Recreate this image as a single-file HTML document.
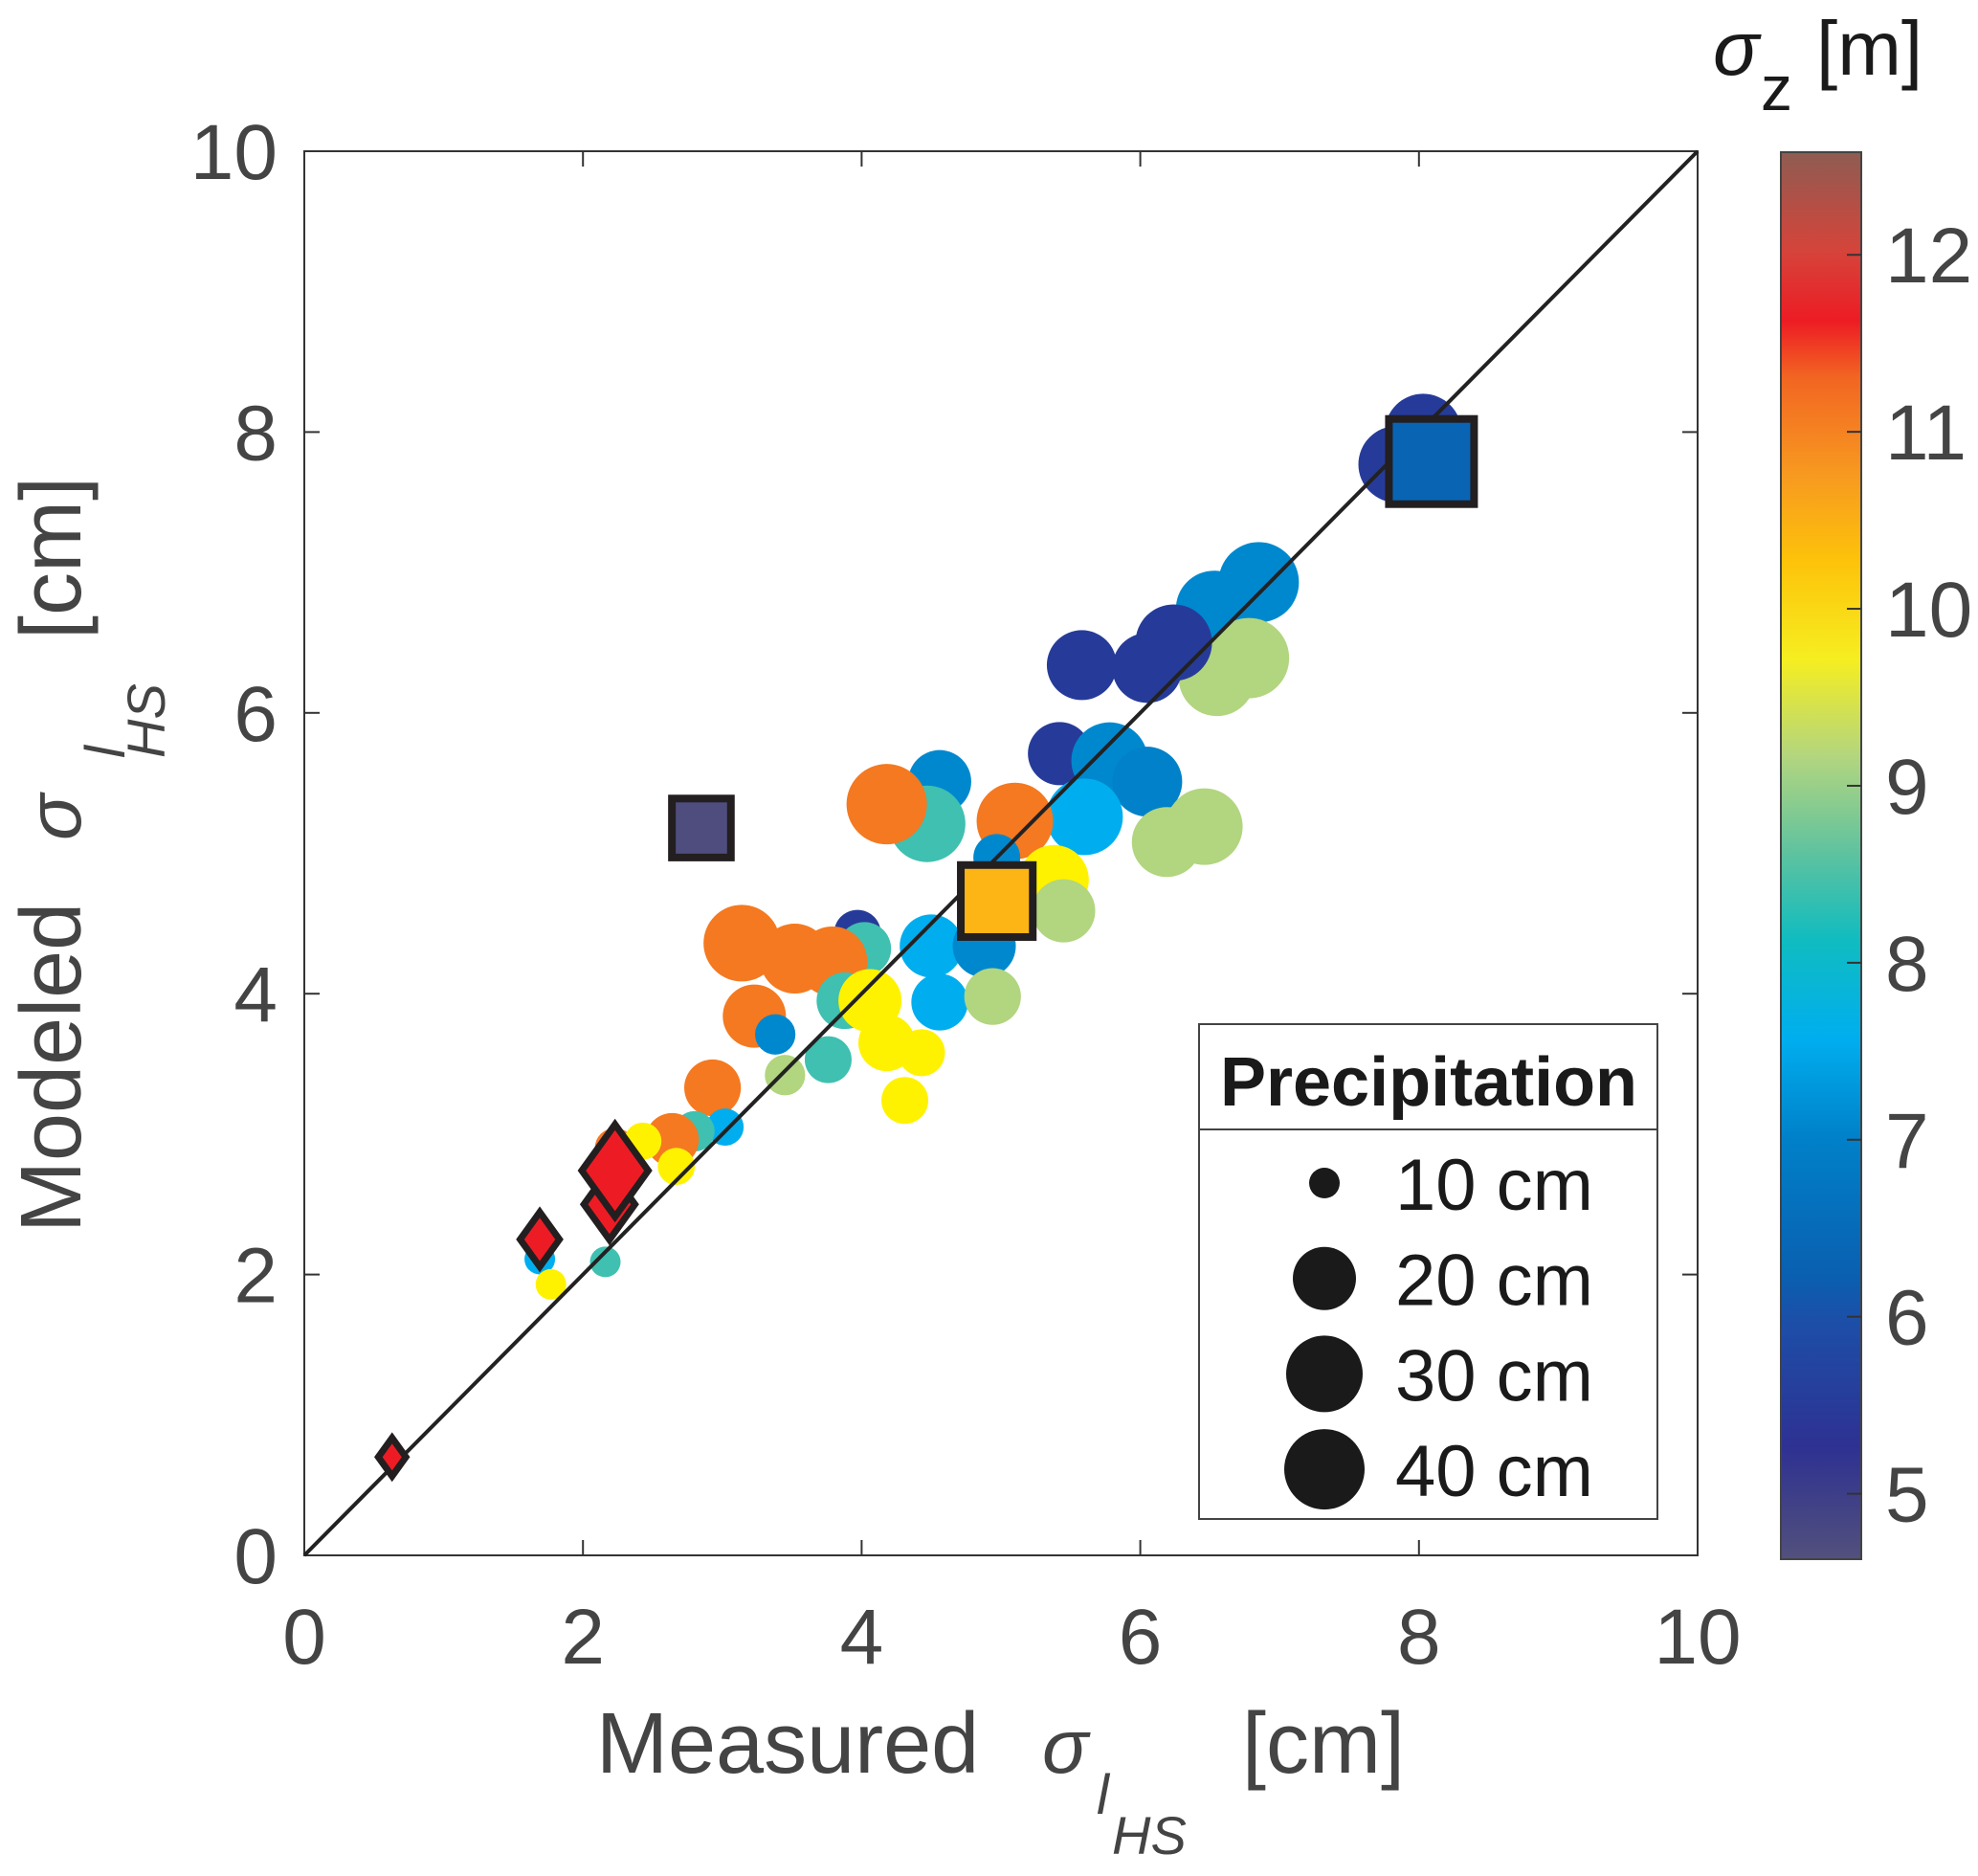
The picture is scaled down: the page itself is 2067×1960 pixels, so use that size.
<!DOCTYPE html>
<html><head><meta charset="utf-8"><style>
html,body{margin:0;padding:0;background:#fff}
svg{display:block}
text{font-family:"Liberation Sans",Arial,sans-serif}
</style></head><body>
<svg id="chart" width="2067" height="1960" viewBox="0 0 2067 1960" xmlns="http://www.w3.org/2000/svg">
<defs>
<linearGradient id="cbgrad" x1="0" y1="1" x2="0" y2="0">
<stop offset="0" stop-color="#52507c"/>
<stop offset="0.08" stop-color="#2e3192"/>
<stop offset="0.17" stop-color="#1c4fa8"/>
<stop offset="0.2" stop-color="#0a5fb0"/>
<stop offset="0.3" stop-color="#0081c9"/>
<stop offset="0.37" stop-color="#00aeef"/>
<stop offset="0.44" stop-color="#10bcc0"/>
<stop offset="0.5" stop-color="#5cc2a0"/>
<stop offset="0.57" stop-color="#b2d57f"/>
<stop offset="0.64" stop-color="#f6ee20"/>
<stop offset="0.71" stop-color="#fdc20a"/>
<stop offset="0.77" stop-color="#f79a20"/>
<stop offset="0.84" stop-color="#f26522"/>
<stop offset="0.88" stop-color="#ed1c24"/>
<stop offset="0.93" stop-color="#d5443a"/>
<stop offset="1" stop-color="#8e5c52"/>
</linearGradient>
</defs>
<g id="plot"></g>
<g fill="#444">
<text x="623" y="1852" font-size="90" font-family="Liberation Sans, sans-serif">Measured</text>
<text x="1089" y="1852" font-size="80" font-style="italic" font-family="Liberation Serif, serif">σ</text>
<text x="1146" y="1895" font-size="58" font-style="italic" font-family="Liberation Sans, sans-serif">l</text>
<text x="1162" y="1937" font-size="56" font-style="italic" font-family="Liberation Sans, sans-serif">HS</text>
<text x="1298" y="1852" font-size="90" font-family="Liberation Sans, sans-serif">[cm]</text>
</g>
<g fill="#444" transform="translate(84,0) rotate(-90)">
<text x="-1288" y="0" font-size="90" font-family="Liberation Sans, sans-serif">Modeled</text>
<text x="-878" y="0" font-size="80" font-style="italic" font-family="Liberation Serif, serif">σ</text>
<text x="-792" y="46" font-size="58" font-style="italic" font-family="Liberation Sans, sans-serif">l</text>
<text x="-792" y="88" font-size="56" font-style="italic" font-family="Liberation Sans, sans-serif">HS</text>
<text x="-668" y="0" font-size="90" font-family="Liberation Sans, sans-serif">[cm]</text>
</g>
<g fill="#1a1a1a">
<text x="1790" y="78" font-size="80" font-style="italic" font-family="Liberation Serif, serif">σ</text>
<text x="1840" y="115" font-size="66" font-family="Liberation Sans, sans-serif">z</text>
<text x="1898" y="78" font-size="80" font-family="Liberation Sans, sans-serif">[m]</text>
</g>
</svg>
<script>
const mx=[8.03,7.84,6.85,6.53,6.78,6.55,6.24,6.05,5.58,5.42,5.78,6.05,5.60,6.46,6.19,4.56,4.47,4.18,5.10,4.97,5.38,5.45,3.97,4.02,4.50,4.88,3.14,3.52,3.79,3.88,4.06,4.56,4.94,3.23,3.38,4.18,4.43,3.76,3.45,4.31,2.93,3.02,2.80,2.64,2.23,2.43,2.67,1.69,1.77,2.16];
const my=[8.00,7.77,6.93,6.74,6.39,6.25,6.50,6.32,6.34,5.71,5.66,5.51,5.26,5.19,5.08,5.51,5.21,5.35,5.23,4.97,4.81,4.59,4.43,4.32,4.34,4.34,4.36,4.25,4.23,3.95,3.95,3.94,3.98,3.84,3.71,3.65,3.58,3.53,3.42,3.24,3.33,3.05,3.02,2.96,2.90,2.95,2.77,2.11,1.93,2.09];
const sz=[5.5,5.5,7,7,9,9,5.5,5.5,5.5,5.5,7,6.9,7.5,9,9,7,8.2,11,11,7,9.6,9,5.5,8.2,7.5,7,11,11,11,8.2,9.6,7.5,9,11,7,9.6,9.6,8.2,9,9.6,11,7.5,8.2,11,11,9.6,9.6,7.5,9.6,8.2];
const pr=[30,30,40,30,40,30,30,25,25,20,30,25,30,30,25,20,30,40,30,15,25,20,15,17,20,20,30,25,25,18,20,18,18,20,13,18,15,15,13,15,18,12,13,17,13,12,12,10,10,10];
const dx=[0.63,1.69,2.19,2.23];
const dy=[0.70,2.25,2.50,2.74];
const dpr=[10,14,18,28];
const qx=[2.85,4.97,8.09];
const qy=[5.18,4.66,7.79];
const qz=[4.7,10.2,6.3];
const qpr=[14,18,25];
const xticks=[0,2,4,6,8,10];
const yticks=[0,2,4,6,8,10];
const cticks=[5,6,7,8,9,10,11,12];
const legendPr=[10,20,30,40];

const X0=318,X1=1774,Y0=1625,Y1=158;
const xs=v=>X0+(X1-X0)*v/10;
const ys=v=>Y0-(Y0-Y1)*v/10;
const CB0=4.63,CB1=12.58,CBT=159,CBB=1629;
const cs=v=>CBB-(CBB-CBT)*(v-CB0)/(CB1-CB0);
function rad(p){const P=[10,20,30,40],R=[16,33,40,42];
 if(p<=10)return 16*p/10; for(let i=0;i<3;i++){if(p<=P[i+1])return R[i]+(R[i+1]-R[i])*(p-P[i])/10;} return 42;}
const stops=[[4.63,'#52507c'],[5.3,'#2e3192'],[6.2,'#0a5fb0'],[6.9,'#0081c9'],[7.5,'#00aeef'],[8.1,'#34bfb5'],[8.6,'#6cc5a0'],[9.0,'#b2d57f'],[9.6,'#fff200'],[10.2,'#fdb515'],[10.6,'#f79a20'],[11.0,'#f47920'],[11.5,'#ed1c24'],[12,'#d5443a'],[12.6,'#8e5c52']];
function hex(h){return [1,3,5].map(i=>parseInt(h.substr(i,2),16));}
function cmap(v){if(v<=stops[0][0])return stops[0][1];
 for(let i=0;i<stops.length-1;i++){const a=stops[i],b=stops[i+1];if(v<=b[0]){const t=(v-a[0])/(b[0]-a[0]);const A=hex(a[1]),B=hex(b[1]);return 'rgb('+A.map((c,k)=>Math.round(c+(B[k]-c)*t)).join(',')+')';}}
 return stops[stops.length-1][1];}
const NS='http://www.w3.org/2000/svg';
const g=document.getElementById('plot');
function mk(tag,attrs,parent){const e=document.createElementNS(NS,tag);for(const k in attrs)e.setAttribute(k,attrs[k]);(parent||g).appendChild(e);return e;}

const box=mk('rect',{x:X0,y:Y1,width:X1-X0,height:Y0-Y1,fill:'none',stroke:'#333',"stroke-width":2});


xticks.forEach(t=>{
 const x=xs(t);
 const a=mk('line',{x1:x,y1:Y0,x2:x,y2:Y0-16,stroke:'#333',"stroke-width":2});
 
 
 mk('line',{x1:x,y1:Y1,x2:x,y2:Y1+16,stroke:'#333',"stroke-width":2});
 const l=mk('text',{x:x,y:1738,"text-anchor":"middle","font-size":82,fill:'#444'});l.textContent=t;
 
 
});
yticks.forEach(t=>{
 const y=ys(t);
 const a=mk('line',{x1:X0,y1:y,x2:X0+16,y2:y,stroke:'#333',"stroke-width":2});
 
 
 mk('line',{x1:X1,y1:y,x2:X1-16,y2:y,stroke:'#333',"stroke-width":2});
 const l=mk('text',{x:290,y:y+29,"text-anchor":"end","font-size":82,fill:'#444'});l.textContent=t;
 
 
});
for(let i=0;i<mx.length;i++){
 const c=mk('circle',{cx:xs(mx[i]),cy:ys(my[i]),r:rad(pr[i]),fill:cmap(sz[i])});
 
 
}
const ln=mk('line',{x1:xs(0),y1:ys(0),x2:xs(10),y2:ys(10),stroke:'#222',"stroke-width":4});


for(let i=0;i<dx.length;i++){
 const cx=xs(dx[i]),cy=ys(dy[i]),h=rad(dpr[i])*1.25,w=h*0.72;
 const d=mk('polygon',{points:`${cx},${cy-h} ${cx+w},${cy} ${cx},${cy+h} ${cx-w},${cy}`,fill:'#ed1c24',stroke:'#231f20',"stroke-width":7,"stroke-linejoin":"miter"});
 
 
}
for(let i=0;i<qx.length;i++){
 const s=rad(qpr[i])*1.0+8;
 const q=mk('rect',{x:xs(qx[i])-s,y:ys(qy[i])-s,width:2*s,height:2*s,fill:cmap(qz[i]),stroke:'#231f20',"stroke-width":8});
 
 
}
const lg=mk('g',{});


mk('rect',{x:1253,y:1070,width:479,height:517,fill:'#fff',stroke:'#444',"stroke-width":2},lg);
mk('line',{x1:1253,y1:1180,x2:1732,y2:1180,stroke:'#444',"stroke-width":2},lg);
const lt=mk('text',{x:1493,y:1155,"text-anchor":"middle","font-size":72,"font-weight":"bold",fill:'#1a1a1a'},lg);lt.textContent='Precipitation';


legendPr.forEach((p,i)=>{
 const cy=1236+i*99.7;
 const c=mk('circle',{cx:1384,cy:cy,r:rad(p),fill:'#1a1a1a'},lg);
 
 
 const t=mk('text',{x:1458,y:cy+28,"font-size":76,fill:'#1a1a1a'},lg);t.textContent=p+' cm';
 
 
});
const cb=mk('rect',{x:1861,y:CBT,width:84,height:CBB-CBT,fill:'url(#cbgrad)',stroke:'#444',"stroke-width":2});


cticks.forEach(t=>{
 const y=cs(t);
 const a=mk('line',{x1:1945,y1:y,x2:1930,y2:y,stroke:'#333',"stroke-width":2});
 
 
 const l=mk('text',{x:1970,y:y+29,"font-size":82,fill:'#444'});l.textContent=t;
 
 
});
</script>
</body></html>
